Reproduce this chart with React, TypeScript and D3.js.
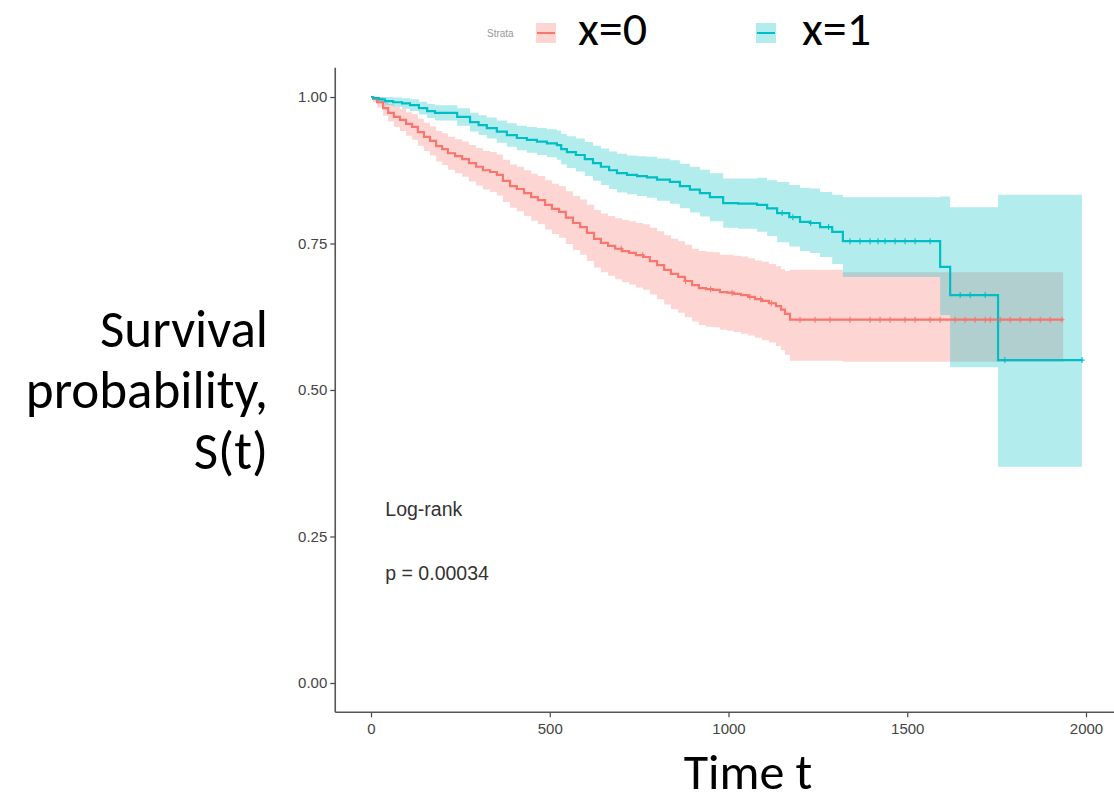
import { useRef, useEffect } from 'react'
import * as d3 from 'd3'

type Row = [number, number, number, number]

// Kaplan-Meier estimates: [time, S(t), lower CI, upper CI]
const kmX0: Row[] = [
  [0, 1, 1, 1],
  [6, 0.997, 0.991, 1.0],
  [17, 0.991, 0.982, 1.0],
  [34, 0.981, 0.968, 0.994],
  [48, 0.973, 0.958, 0.988],
  [64, 0.966, 0.949, 0.983],
  [81, 0.961, 0.942, 0.98],
  [98, 0.954, 0.934, 0.974],
  [115, 0.949, 0.927, 0.971],
  [131, 0.94, 0.917, 0.963],
  [148, 0.932, 0.908, 0.956],
  [165, 0.925, 0.9, 0.95],
  [182, 0.916, 0.89, 0.942],
  [199, 0.911, 0.884, 0.938],
  [215, 0.904, 0.876, 0.932],
  [235, 0.899, 0.87, 0.928],
  [255, 0.894, 0.864, 0.924],
  [274, 0.887, 0.856, 0.918],
  [294, 0.881, 0.849, 0.913],
  [313, 0.875, 0.842, 0.908],
  [333, 0.872, 0.838, 0.906],
  [352, 0.867, 0.832, 0.902],
  [369, 0.857, 0.821, 0.893],
  [389, 0.848, 0.811, 0.885],
  [408, 0.843, 0.805, 0.881],
  [428, 0.836, 0.797, 0.875],
  [448, 0.829, 0.789, 0.869],
  [467, 0.824, 0.783, 0.865],
  [487, 0.816, 0.774, 0.858],
  [506, 0.809, 0.766, 0.852],
  [526, 0.804, 0.76, 0.848],
  [545, 0.794, 0.749, 0.839],
  [565, 0.785, 0.739, 0.831],
  [585, 0.778, 0.731, 0.825],
  [604, 0.768, 0.72, 0.816],
  [624, 0.758, 0.709, 0.807],
  [643, 0.751, 0.701, 0.801],
  [663, 0.746, 0.695, 0.797],
  [683, 0.741, 0.689, 0.793],
  [702, 0.737, 0.684, 0.79],
  [722, 0.734, 0.68, 0.788],
  [741, 0.73, 0.675, 0.785],
  [761, 0.727, 0.671, 0.783],
  [780, 0.72, 0.663, 0.777],
  [800, 0.713, 0.655, 0.771],
  [820, 0.705, 0.646, 0.764],
  [839, 0.698, 0.638, 0.758],
  [859, 0.693, 0.632, 0.754],
  [878, 0.686, 0.624, 0.748],
  [898, 0.679, 0.617, 0.741],
  [917, 0.674, 0.611, 0.737],
  [937, 0.672, 0.608, 0.736],
  [957, 0.671, 0.607, 0.735],
  [976, 0.667, 0.603, 0.731],
  [996, 0.666, 0.601, 0.731],
  [1015, 0.664, 0.599, 0.729],
  [1035, 0.662, 0.596, 0.728],
  [1055, 0.659, 0.593, 0.725],
  [1074, 0.655, 0.589, 0.721],
  [1094, 0.652, 0.585, 0.719],
  [1113, 0.648, 0.581, 0.715],
  [1133, 0.643, 0.575, 0.711],
  [1147, 0.637, 0.568, 0.706],
  [1158, 0.63, 0.56, 0.703],
  [1172, 0.62, 0.55, 0.705],
  [1320, 0.62, 0.548, 0.701],
  [1936, 0.62, 0.548, 0.701],
]

const kmX1: Row[] = [
  [0, 1, 1, 1],
  [6, 0.998, 0.994, 1.0],
  [22, 0.996, 0.99, 1.0],
  [39, 0.993, 0.986, 1.0],
  [62, 0.991, 0.983, 0.999],
  [87, 0.989, 0.98, 0.998],
  [109, 0.986, 0.976, 0.996],
  [134, 0.981, 0.97, 0.992],
  [157, 0.976, 0.964, 0.988],
  [179, 0.973, 0.96, 0.986],
  [241, 0.966, 0.951, 0.981],
  [277, 0.957, 0.941, 0.973],
  [301, 0.952, 0.935, 0.969],
  [324, 0.947, 0.929, 0.965],
  [352, 0.941, 0.922, 0.96],
  [380, 0.935, 0.915, 0.955],
  [408, 0.93, 0.909, 0.951],
  [436, 0.927, 0.905, 0.949],
  [464, 0.924, 0.901, 0.947],
  [492, 0.921, 0.897, 0.945],
  [520, 0.918, 0.893, 0.943],
  [532, 0.911, 0.885, 0.937],
  [548, 0.906, 0.879, 0.933],
  [573, 0.901, 0.873, 0.929],
  [598, 0.894, 0.865, 0.923],
  [621, 0.887, 0.857, 0.917],
  [643, 0.881, 0.85, 0.912],
  [666, 0.875, 0.843, 0.907],
  [688, 0.87, 0.837, 0.903],
  [716, 0.867, 0.834, 0.9],
  [744, 0.865, 0.831, 0.899],
  [772, 0.863, 0.828, 0.898],
  [800, 0.859, 0.823, 0.895],
  [836, 0.855, 0.818, 0.892],
  [864, 0.848, 0.81, 0.886],
  [892, 0.842, 0.803, 0.881],
  [920, 0.836, 0.796, 0.876],
  [948, 0.829, 0.788, 0.87],
  [985, 0.819, 0.777, 0.861],
  [1027, 0.818, 0.775, 0.861],
  [1080, 0.816, 0.77, 0.862],
  [1108, 0.81, 0.763, 0.858],
  [1136, 0.802, 0.752, 0.855],
  [1170, 0.795, 0.745, 0.85],
  [1200, 0.787, 0.737, 0.845],
  [1228, 0.785, 0.734, 0.844],
  [1256, 0.778, 0.727, 0.838],
  [1290, 0.77, 0.715, 0.833],
  [1320, 0.754, 0.693, 0.829],
  [1592, 0.71, 0.628, 0.83],
  [1620, 0.662, 0.539, 0.812],
  [1754, 0.551, 0.369, 0.833],
  [1989, 0.551, 0.369, 0.833],
]

// censoring times ('+' marks)
const censorX0 = [
  700, 760, 880, 950, 1010, 1060, 1090, 1120, 1200, 1242, 1284, 1340, 1396, 1424, 1452, 1494,
  1522, 1564, 1592, 1634, 1662, 1690, 1718, 1732, 1760, 1788, 1816, 1844, 1872, 1900, 1933,
]
const censorX1 = [
  1150, 1180, 1230, 1280, 1340, 1368, 1396, 1418, 1438, 1466, 1494, 1522, 1564, 1648, 1676,
  1718, 1773, 1989,
]

const strata = ['x=0', 'x=1']
const colors = ['#F8766D', '#00BFC4']
const xTicks = [0, 500, 1000, 1500, 2000]
const yTicks = [0, 0.25, 0.5, 0.75, 1]
const yLabelLines = ['Survival', 'probability,', 'S(t)']
const pvalLines = ['Log-rank', 'p = 0.00034']

const BIG_FONT = 'Carlito, Calibri, Lato, sans-serif'
const SMALL_FONT = '"Liberation Sans", Arial, Helvetica, sans-serif'

export default function App() {
  const svgRef = useRef<SVGSVGElement>(null)

  useEffect(() => {
    if (!svgRef.current) return
    const svg = d3.select(svgRef.current)
    svg.selectAll('*').remove()

    const x = d3.scaleLinear().domain([0, 2000]).range([371, 1086])
    const y = d3.scaleLinear().domain([0, 1]).range([683, 97])
    const left = x(-100)
    const bottom = y(-0.05)

    const groups = [kmX0, kmX1]
    const censors = [censorX0, censorX1]

    // confidence bands
    groups.forEach((rows, i) => {
      const area = d3.area<Row>()
        .x(d => x(d[0]))
        .y0(d => y(d[2]))
        .y1(d => y(d[3]))
        .curve(d3.curveStepAfter)
      svg.append('path')
        .datum(rows)
        .attr('d', area)
        .attr('fill', colors[i])
        .attr('fill-opacity', 0.3)
    })

    // survival curves
    groups.forEach((rows, i) => {
      const line = d3.line<Row>()
        .x(d => x(d[0]))
        .y(d => y(d[1]))
        .curve(d3.curveStepAfter)
      svg.append('path')
        .datum(rows)
        .attr('d', line)
        .attr('fill', 'none')
        .attr('stroke', colors[i])
        .attr('stroke-width', 2.2)
    })

    // censor marks
    const bis = d3.bisector((d: Row) => d[0]).right
    groups.forEach((rows, i) => {
      censors[i].forEach(t => {
        const row = rows[Math.max(0, bis(rows, t) - 1)]
        const cx = x(t)
        const cy = y(row[1])
        svg.append('path')
          .attr('d', `M${cx - 2.5},${cy}H${cx + 2.5}M${cx},${cy - 3}V${cy + 3}`)
          .attr('stroke', colors[i])
          .attr('stroke-width', 1.1)
      })
    })

    // axes
    const xAxis = svg.append('g')
      .attr('transform', `translate(0,${bottom})`)
      .call(d3.axisBottom(x).tickValues(xTicks).tickSize(5).tickSizeOuter(0).tickPadding(6).tickFormat(d3.format('d')))
    xAxis.select('.domain').remove()
    xAxis.append('line')
      .attr('x1', left).attr('x2', 1114).attr('y1', 0).attr('y2', 0)
      .attr('stroke', '#555').attr('stroke-width', 1.6)

    const yAxis = svg.append('g')
      .attr('transform', `translate(${left},0)`)
      .call(d3.axisLeft(y).tickValues(yTicks).tickSize(5).tickSizeOuter(0).tickPadding(3).tickFormat(d3.format('.2f')))
    yAxis.select('.domain').remove()
    yAxis.append('line')
      .attr('x1', 0).attr('x2', 0).attr('y1', y(1.05)).attr('y2', bottom)
      .attr('stroke', '#555').attr('stroke-width', 1.6)

    svg.selectAll('.tick line').attr('stroke', '#444').attr('stroke-width', 1.2)
    svg.selectAll('.tick text')
      .attr('fill', '#444')
      .attr('font-size', 15)
      .attr('font-family', SMALL_FONT)

    // log-rank annotation
    pvalLines.forEach((txt, i) => {
      svg.append('text')
        .attr('x', x(40))
        .attr('y', 516 + i * 64)
        .attr('font-family', SMALL_FONT)
        .attr('font-size', 19.5)
        .attr('fill', '#333')
        .text(txt)
    })

    // y label (right aligned)
    yLabelLines.forEach((txt, i) => {
      svg.append('text')
        .attr('x', 268)
        .attr('y', 347 + i * 61)
        .attr('text-anchor', 'end')
        .attr('font-family', BIG_FONT)
        .attr('font-size', 53)
        .attr('fill', '#000')
        .text(txt)
    })

    // x label
    svg.append('text')
      .attr('x', 748)
      .attr('y', 789)
      .attr('text-anchor', 'middle')
      .attr('font-family', BIG_FONT)
      .attr('font-size', 50)
      .attr('fill', '#000')
      .text('Time t')

    // legend
    svg.append('text')
      .attr('x', 487)
      .attr('y', 37)
      .attr('font-family', SMALL_FONT)
      .attr('font-size', 10)
      .attr('fill', '#999')
      .text('Strata')

    const keyX = [536, 756]
    const labelX = [578, 802]
    strata.forEach((s, i) => {
      svg.append('rect')
        .attr('x', keyX[i]).attr('y', 23).attr('width', 20).attr('height', 20)
        .attr('fill', colors[i]).attr('fill-opacity', 0.3)
      svg.append('line')
        .attr('x1', keyX[i] + 1).attr('x2', keyX[i] + 19).attr('y1', 33).attr('y2', 33)
        .attr('stroke', colors[i]).attr('stroke-width', 2)
      svg.append('text')
        .attr('x', labelX[i])
        .attr('y', 45)
        .attr('font-family', BIG_FONT)
        .attr('font-size', 48)
        .attr('fill', '#000')
        .text(s)
    })
  }, [])

  return (
    <svg
      ref={svgRef}
      width={1114}
      height={803}
      style={{ position: 'absolute', left: 0, top: 0, background: '#fff' }}
    />
  )
}
